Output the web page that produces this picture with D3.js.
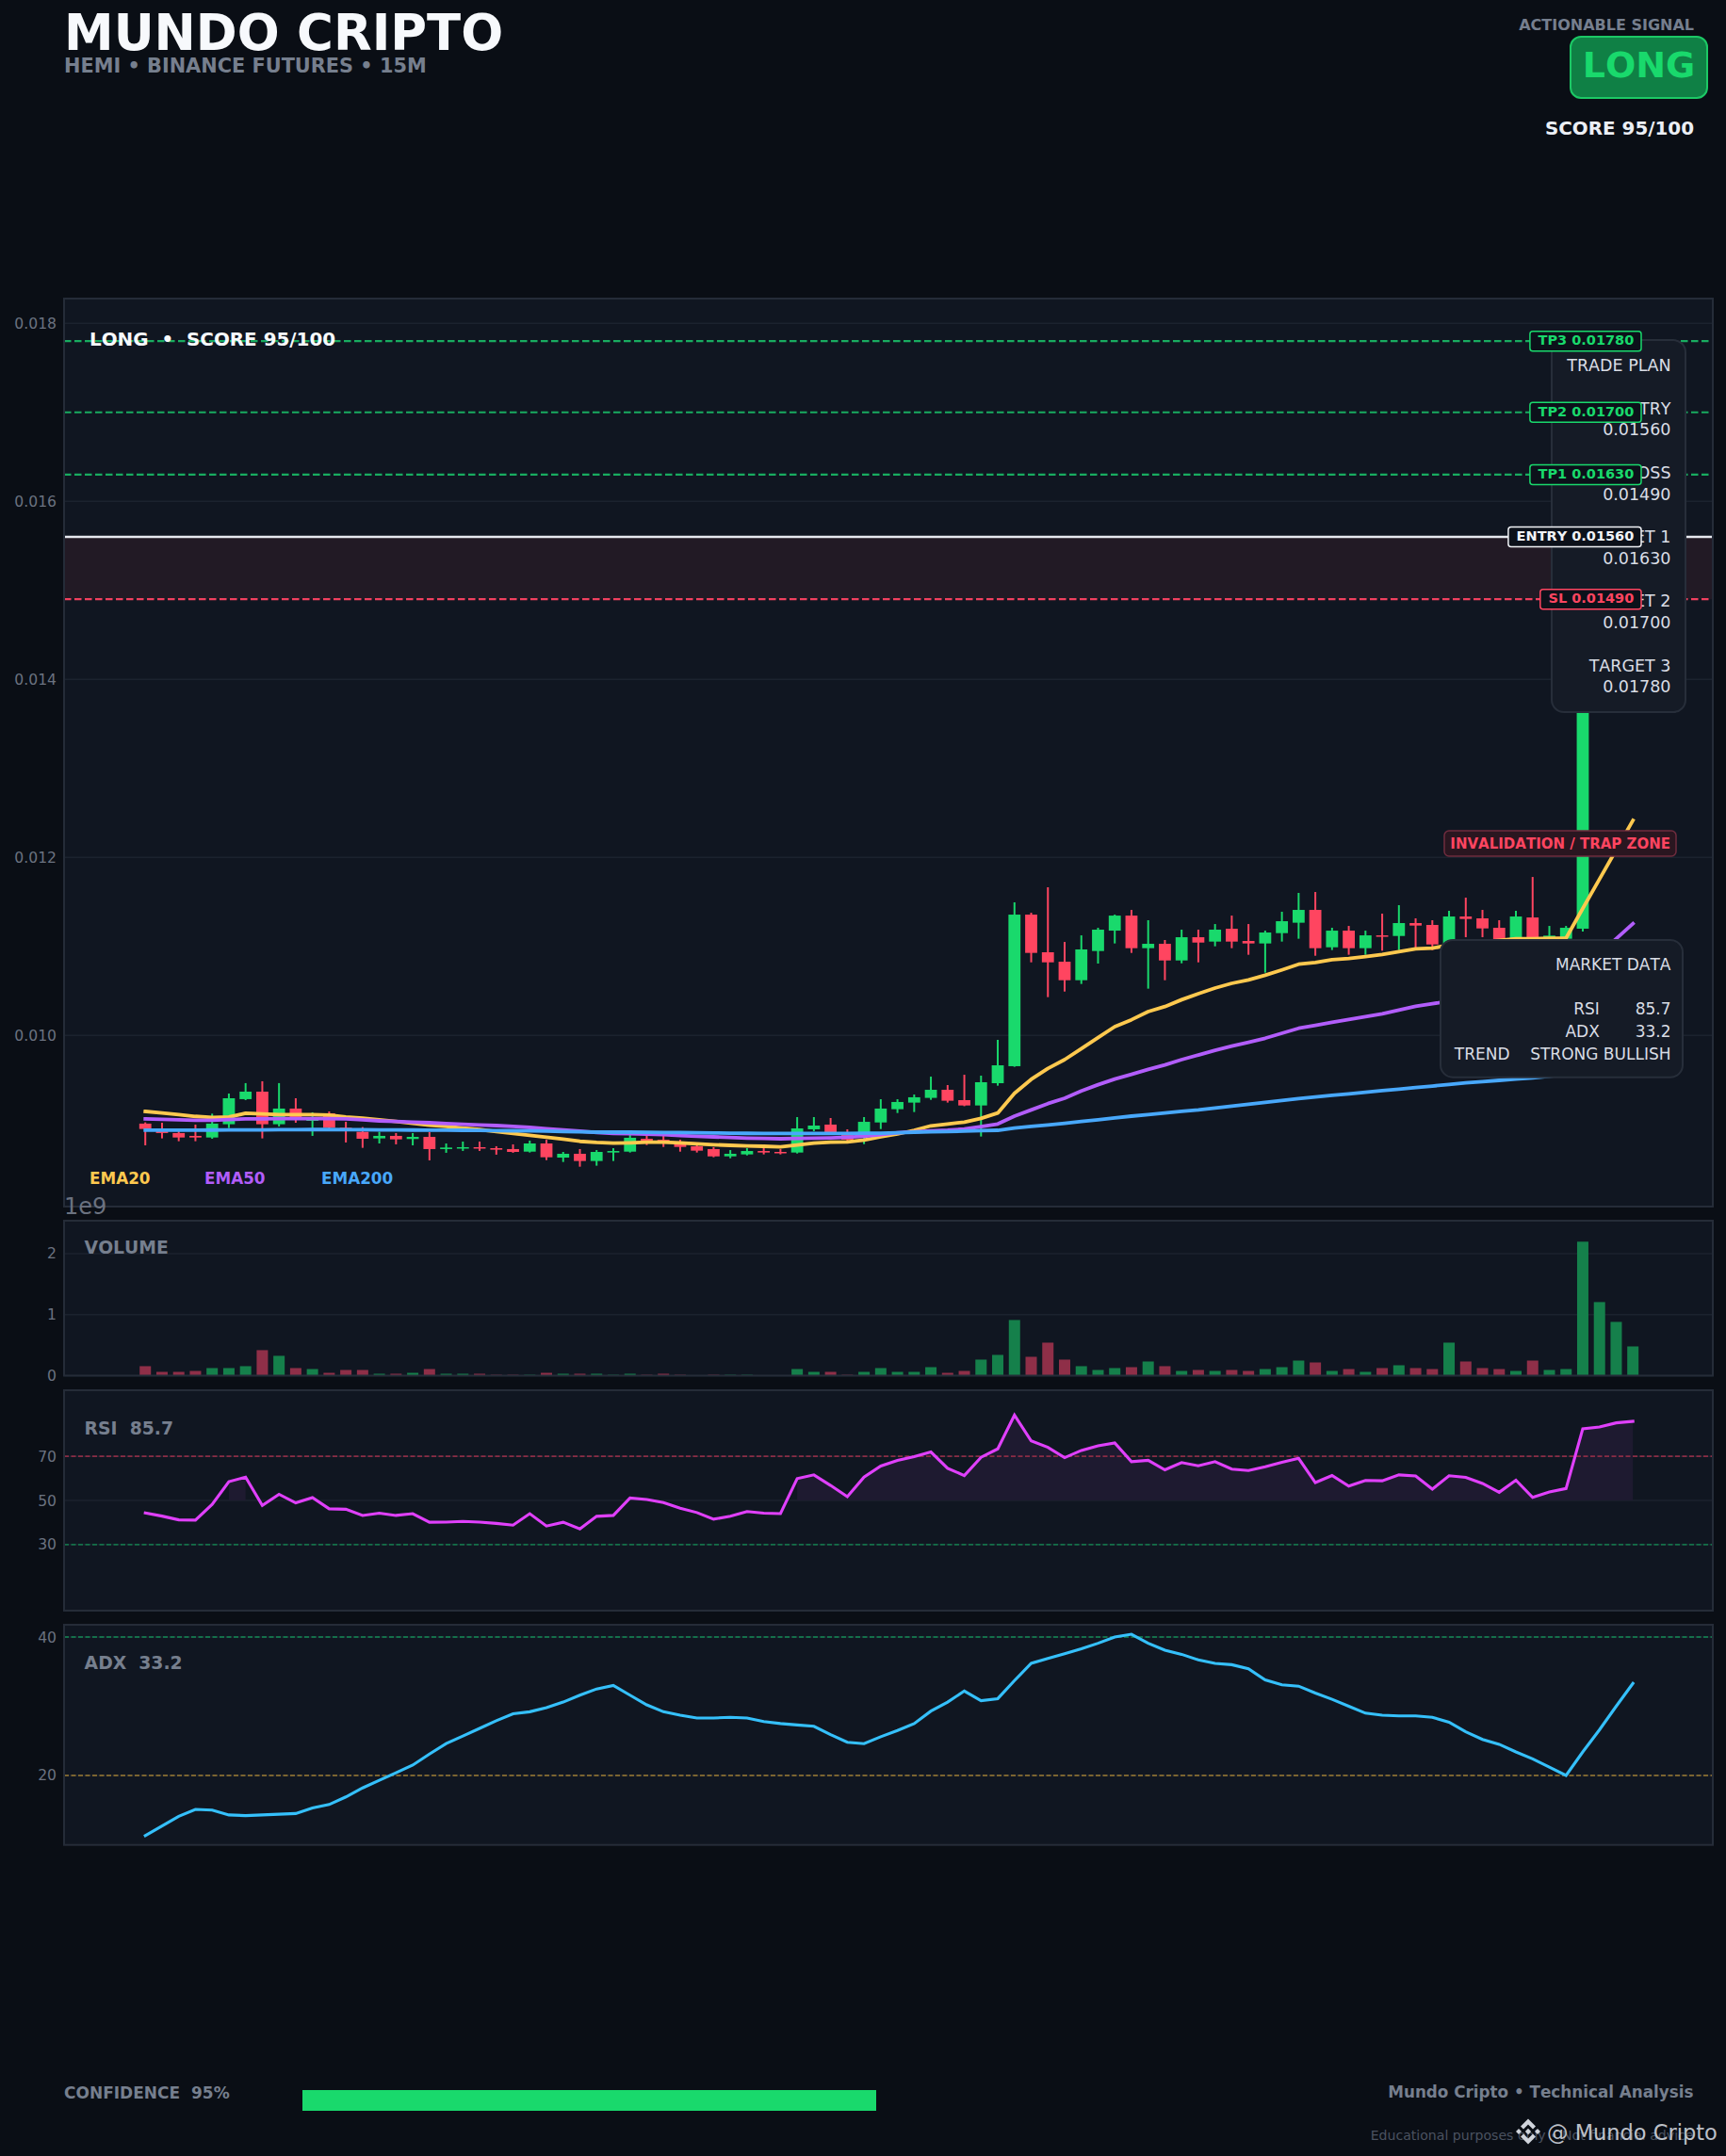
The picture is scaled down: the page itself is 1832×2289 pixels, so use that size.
<!DOCTYPE html>
<html>
<head>
<meta charset="utf-8">
<script src="https://cdn.jsdelivr.net/npm/d3@7"></script>
<style>
  body { margin: 0; background: #0a0e15; }
  text { font-family: "DejaVu Sans", sans-serif; white-space: pre; font-kerning: none; }
</style>
</head>
<body>
<div id="chart"></div>
<script>
// all prices below are in units of 0.00001
const opens = [900.9,892.4,890.3,887.1,885.3,900.2,928.4,936.8,900.2,917.8,904.0,912.5,896.3,891.7,884.3,887.1,883.6,886.0,872.3,873.7,874.4,873.3,872.3,869.4,878.6,862.7,867.0,858.9,868.4,869.4,883.9,882.8,880.7,875.4,872.3,864.1,866.3,870.1,869.1,868.4,894.5,899.8,888.1,888.1,902.2,917.1,924.5,929.8,938.9,927.3,921.3,946.3,965.4,1135.7,1093.4,1082.8,1062,1094.8,1117.7,1134.6,1098,1102.9,1084.2,1110.3,1105.4,1119.8,1106.1,1103.3,1114.9,1126.6,1141,1099,1117.7,1098,1112.4,1111.7,1126.2,1124.1,1100.8,1133.6,1131.5,1120.9,1108.6,1132.5,1108.6,1108.6,1119.9,1520,1555,1580]
const closes = [894.9,890.3,885.3,885.3,900.9,929.4,936.8,900.2,917.8,906.9,906.9,896.3,894.9,883.9,887.1,883.2,886.0,872.3,874.0,874.4,873.0,871.6,869.1,878.6,863.1,867.0,858.9,869.1,870.1,885.0,881.1,880.7,874.7,870.5,864.1,867.0,870.1,868.4,868.4,895.5,898.7,891.3,882.8,902.9,917.8,925.2,930.5,938.9,926.6,921.3,947.4,966.4,1135.7,1092.7,1082.1,1062,1096.6,1118.8,1134.6,1098,1102.9,1084.2,1110.3,1104.3,1118.8,1105.4,1103.3,1115.6,1128.3,1141,1098,1117.7,1098,1112.4,1111.4,1126.2,1123.4,1102.2,1133.6,1130.8,1120.2,1106.8,1133.6,1108.6,1112.1,1120.9,1520,1555,1580,1590]
const highs = [902.3,901.9,893.5,899.8,912.1,934.7,946.4,948.5,946.4,929.4,913.6,914.6,903.0,897,891.7,890.3,890.3,891.3,878.6,880.7,880.7,875.5,877.6,881.8,882.8,869.1,872.3,871.2,873.3,888.1,888.1,888.1,882.8,876.5,874.4,871.2,873.3,873.3,872.3,908.2,908.2,907.2,894.5,908.2,928.3,928.3,933.6,953.7,944.2,955.8,954.8,995,1149.5,1137.8,1166.4,1105,1112.4,1120.9,1135.7,1141,1129.4,1107.2,1118.8,1118.8,1125.1,1134.6,1125.1,1117.7,1138.9,1160.1,1161.1,1120.9,1123,1117.7,1136.8,1146.3,1131.5,1129.4,1140,1154.8,1141,1129.4,1140,1178,1123,1123,1535,1570,1590,1600]
const lows = [876.5,884.3,881.1,881.1,883.9,895.9,927.3,884.3,897.7,901.9,887.1,895.5,879.7,873.7,878.6,877.6,876.5,859.6,868.1,870.2,870.2,866,868.1,868.4,859.9,857.8,852.5,853.6,858.9,868.4,876.8,874.7,869.4,868.4,863.1,862,865.2,866.3,866.3,867.3,892.4,889.9,881.1,877.9,894.8,912.8,913.9,927.6,924.5,920.5,886.4,943.5,964.7,1082.1,1043,1049.3,1057.8,1080.7,1103.3,1092.7,1052.5,1062,1081,1082.1,1100.1,1098,1090.6,1070.5,1105.4,1108.6,1089.5,1095.9,1090.6,1090.6,1095.2,1095.9,1096.9,1095.9,1098.7,1110.3,1110.3,1105,1106.8,1107.5,1107.5,1107.5,1116.7,1505,1540,1570]
const ema20 = [914.6,912.9,911.1,909,907.9,908.3,912.5,911.8,911.1,911.1,911.1,910.4,908.3,906.9,905.1,903.3,901.2,899.1,897.7,895.9,894.2,892,889.9,887.8,885.7,883.5,881,879.7,879,879.3,880,880,879.3,878.3,877.2,876.5,875.8,875.4,874.7,876.8,879,880,880.4,882.5,886,889.2,893.4,898.4,900.5,902.6,906.8,912.8,935,950.6,962.9,972.8,985.1,997.5,1009.8,1017.6,1026.7,1032.4,1040.1,1046.9,1053.2,1058.5,1062.4,1067.6,1073.6,1080,1081.8,1085,1086.3,1088.5,1091,1094.1,1097.3,1098,1101.5,1103.6,1105,1106.8,1108.6,1108.6,1109,1109.3,1142.6,1175.5,1208.5,1241.5]
const ema50 = [906.2,905.8,905.1,904.7,904.7,905.4,906.2,906.2,906.5,906.5,906.5,906.5,906.2,905.1,904,903.3,902.6,901.9,900.9,900.2,899.4,898.7,897.7,896.6,895.2,893.8,892.4,891,889.9,889.6,889.2,888.5,887.4,886.7,886,885.3,884.6,884.2,883.9,884.2,884.6,884.9,885.6,886.7,888.5,890.6,891.7,892.7,893.4,894.8,897.6,900.5,909.3,916.3,923.4,929.4,937.5,944.6,950.9,956.2,961.8,966.8,972.8,978,983.3,987.9,992.2,996.8,1002.4,1008,1011.2,1014.7,1017.9,1021.1,1024.3,1028.5,1032.7,1035.6,1038.5,1041,1044,1047,1050,1054,1058,1063,1076,1092,1108.6,1125.5]
const ema200 = [893.5,893.5,893.6,893.6,893.7,893.8,893.9,893.9,894,894.1,894.2,894.2,894.1,894,893.9,893.8,893.7,893.6,893.5,893.4,893.3,893.1,892.9,892.7,892.4,892,891.7,891.3,891.3,891.3,891.1,890.9,890.8,890.6,890.4,890.2,890,889.9,889.9,889.9,889.9,889.9,889.9,890.1,890.2,890.6,891.3,891.7,892,892.4,893.1,893.4,895.9,897.7,899.4,901.2,903.3,905.1,907.2,909.3,911,912.8,914.6,916.3,918.5,920.6,922.7,924.8,926.9,929,930.8,932.6,934.3,936.1,937.9,939.6,941.4,943.1,944.9,946.7,948.1,949.5,950.9,952.3,954.1,956.2,959,961.8,964.7,967.5]
// volume in units of 1e9
const volumes = [.155,.062,.062,.077,.124,.124,.155,.418,.325,.124,.108,.046,.093,.093,.031,.031,.046,.108,.031,.031,.031,.015,.015,.015,.046,.031,.031,.031,.015,.031,.015,.031,.015,.005,.015,.015,.015,.006,.006,.108,.062,.062,.015,.062,.124,.062,.062,.139,.046,.077,.263,.34,.912,.309,.541,.263,.155,.093,.124,.139,.232,.155,.077,.093,.077,.093,.077,.108,.139,.247,.216,.077,.108,.062,.124,.17,.124,.108,.541,.232,.124,.108,.077,.247,.093,.108,2.196,1.206,.881,.479]
const rsi = [44.3,42.9,41.2,41.1,48.2,58.5,60.6,47.7,52.8,48.9,51.3,46.2,46,43.2,44.2,43.2,44,40.1,40.2,40.5,40.2,39.6,38.8,44,38.4,40.1,37.1,42.8,43.2,51.1,50.4,49,46.5,44.5,41.5,42.8,45,44.2,44,59.9,61.6,56.8,51.7,60.6,65.6,68.2,69.9,72,64.6,61.3,69.6,73.4,88.7,77,74.1,69.4,72.7,74.8,76.1,67.6,68.2,63.9,67.2,65.7,67.6,64.2,63.6,65.3,67.3,69.1,58.1,61.3,56.5,59.1,58.9,61.6,61.1,55.1,61.2,60.5,57.7,53.7,59.2,51.4,53.8,55.4,82.5,83.3,85.2,85.9]
const adx = [11.3,12.7,14.1,15.1,15,14.3,14.2,14.3,14.4,14.5,15.3,15.8,16.9,18.2,19.3,20.4,21.5,23.1,24.6,25.7,26.8,27.9,28.9,29.2,29.8,30.6,31.6,32.5,33,31.6,30.2,29.2,28.7,28.3,28.3,28.4,28.3,27.8,27.5,27.3,27.1,25.9,24.8,24.6,25.6,26.5,27.5,29.3,30.6,32.2,30.8,31.1,33.7,36.2,36.9,37.6,38.3,39.1,40,40.4,39.1,38.1,37.5,36.7,36.2,36,35.4,33.8,33.1,32.9,31.9,31,30,29,28.7,28.6,28.6,28.4,27.7,26.3,25.2,24.5,23.4,22.4,21.2,20,23.4,26.6,30,33.3]

const priceTicks = [0.010, 0.012, 0.014, 0.016, 0.018]
const volumeTicks = [0, 1, 2]
const rsiTicks = [30, 50, 70]
const adxTicks = [20, 40]

const levels = [
  { label: "TP3 0.01780", price: 0.0178, color: "#18ac60", text: "#19d96c" },
  { label: "TP2 0.01700", price: 0.0170, color: "#18ac60", text: "#19d96c" },
  { label: "TP1 0.01630", price: 0.0163, color: "#18ac60", text: "#19d96c" },
  { label: "ENTRY 0.01560", price: 0.0156, color: "#e6e9ef", text: "#f1f3f7" },
  { label: "SL 0.01490", price: 0.0149, color: "#f0405f", text: "#ff4560" }
]
const planLines = ["TRADE PLAN", "", "ENTRY", "0.01560", "", "STOP LOSS", "0.01490", "", "TARGET 1", "0.01630", "", "TARGET 2", "0.01700", "", "TARGET 3", "0.01780"]
const marketLines = ["MARKET DATA", "", "RSI       85.7", "ADX       33.2", "TREND    STRONG BULLISH"]

const bg = "#0a0e15", panelBg = "#101621", border = "#252c38", gridColor = "#1b222e"
const green = "#19d96c", red = "#ff4560", tickColor = "#6b7280", muted = "#767f8e"
const left = 68, right = 1818

const svg = d3.select("#chart").append("svg")
  .attr("width", 1832)
  .attr("height", 2289)
  .style("display", "block")

svg.append("rect").attr("width", 1832).attr("height", 2289).attr("fill", bg)

const indexes = d3.range(opens.length)
const x = d3.scaleLinear().domain([-4.86, 93.78]).range([left, right])

const yPrice = d3.scaleLinear().domain([0.008077, 0.018278]).range([1281, 317])
const yVolume = d3.scaleLinear().domain([0, 2.54]).range([1460.5, 1296])
const yRsi = d3.scaleLinear().domain([0, 100]).range([1710, 1476])
const yAdx = d3.scaleLinear().domain([9.97, 41.77]).range([1958.7, 1725])

const P = 0.00001

// panel frame, grid lines and tick labels
function panel(scale, ticks, format) {
  const [bottom, top] = scale.range()
  const g = svg.append("g")
  g.append("rect")
    .attr("x", left).attr("y", top)
    .attr("width", right - left).attr("height", bottom - top)
    .attr("fill", panelBg)
  g.selectAll("line.grid")
    .data(ticks)
    .join("line")
    .attr("class", "grid")
    .attr("x1", left).attr("x2", right)
    .attr("y1", d => scale(d)).attr("y2", d => scale(d))
    .attr("stroke", gridColor)
    .attr("stroke-width", 1.5)
  const axis = d3.axisLeft(scale).tickValues(ticks).tickFormat(format).tickSize(0).tickPadding(8)
  const ag = g.append("g").attr("transform", "translate(" + left + ",0)").call(axis)
  ag.select(".domain").remove()
  ag.selectAll("text")
    .attr("fill", tickColor)
    .style("font-size", "15.6px")
    .style("font-family", "'DejaVu Sans'")
  return g
}

function frame(scale) {
  const [bottom, top] = scale.range()
  svg.append("rect")
    .attr("x", left).attr("y", top)
    .attr("width", right - left).attr("height", bottom - top)
    .attr("fill", "none")
    .attr("stroke", border)
    .attr("stroke-width", 2)
}

function label(text, px, py, size, color, weight, anchor) {
  return svg.append("text")
    .attr("x", px).attr("y", py)
    .attr("fill", color)
    .attr("text-anchor", anchor || "start")
    .style("font-size", size + "px")
    .style("font-weight", weight || "normal")
    .text(text)
}

// header
label("MUNDO CRIPTO", 68, 53, 52.9, "#f7f9fc", "bold")
label("HEMI • BINANCE FUTURES • 15M", 68, 77, 20.85, muted, "bold")
label("ACTIONABLE SIGNAL", 1798, 31.7, 16, muted, "bold", "end")
svg.append("rect")
  .attr("x", 1667).attr("y", 39).attr("width", 145).attr("height", 65).attr("rx", 11)
  .attr("fill", "#0f8045").attr("stroke", "#1cc865").attr("stroke-width", 2)
label("LONG", 1739.5, 81.5, 38, green, "bold", "middle")
label("SCORE 95/100", 1798, 142.7, 19.9, "#eceff5", "bold", "end")

// main price panel
panel(yPrice, priceTicks, d3.format(".3f"))

svg.append("rect")
  .attr("x", left).attr("width", right - left)
  .attr("y", yPrice(0.0156)).attr("height", yPrice(0.0149) - yPrice(0.0156))
  .attr("fill", "#221a25")

svg.selectAll("line.level")
  .data(levels)
  .join("line")
  .attr("class", "level")
  .attr("x1", left).attr("x2", right)
  .attr("y1", d => yPrice(d.price)).attr("y2", d => yPrice(d.price))
  .attr("stroke", d => d.color)
  .attr("stroke-width", d => d.label.startsWith("ENTRY") ? 2.6 : 2.2)
  .attr("stroke-dasharray", d => d.label.startsWith("ENTRY") ? null : "7.5,3.5")

const candleColor = i => closes[i] >= opens[i] ? green : red

svg.selectAll("line.wick")
  .data(indexes)
  .join("line")
  .attr("class", "wick")
  .attr("x1", i => x(i)).attr("x2", i => x(i))
  .attr("y1", i => yPrice(highs[i] * P)).attr("y2", i => yPrice(lows[i] * P))
  .attr("stroke", candleColor)
  .attr("stroke-width", 2)

svg.selectAll("rect.body")
  .data(indexes)
  .join("rect")
  .attr("class", "body")
  .attr("x", i => x(i) - 6.4)
  .attr("width", 12.8)
  .attr("y", i => yPrice(Math.max(opens[i], closes[i]) * P))
  .attr("height", i => Math.max(1.5, Math.abs(yPrice(opens[i] * P) - yPrice(closes[i] * P))))
  .attr("fill", candleColor)

const priceLine = d3.line().x((d, i) => x(i)).y(d => yPrice(d * P))
const emaSeries = [
  { name: "EMA20", values: ema20, color: "#ffc94f", lx: 95 },
  { name: "EMA50", values: ema50, color: "#b25dfb", lx: 217 },
  { name: "EMA200", values: ema200, color: "#48a8fb", lx: 341 }
]
emaSeries.forEach(s => {
  svg.append("path")
    .attr("d", priceLine(s.values))
    .attr("fill", "none")
    .attr("stroke", s.color)
    .attr("stroke-width", 3.8)
    .attr("stroke-linejoin", "round")
    .attr("stroke-linecap", "square")
})

emaSeries.forEach(s => label(s.name, s.lx, 1257, 16.8, s.color, "bold"))

// info boxes sit on top of the candles, badges on top of the boxes
function infoBox(bx, by, w, h, lines, firstY, step, size) {
  svg.append("rect")
    .attr("x", bx).attr("y", by).attr("width", w).attr("height", h).attr("rx", 13)
    .attr("fill", "#151b26").attr("stroke", "#272e3a").attr("stroke-width", 2)
  lines.forEach((t, i) => label(t, 1773.5, firstY + i * step, size, "#d9dde5", "normal", "end"))
}
infoBox(1647, 361, 142, 395, planLines, 394, 22.75, 17.5)
infoBox(1529, 998, 257, 145.7, marketLines, 1030, 23.7, 17)

levels.forEach(d => {
  const cy = yPrice(d.price)
  const t = label(d.label, 1734.3, cy + 3.8, 14.5, d.text, "bold", "end")
  const w = t.node().getComputedTextLength()
  svg.insert("rect", () => t.node())
    .attr("x", 1734.3 - w - 8.7).attr("y", cy - 10.5)
    .attr("width", w + 16.4).attr("height", 21).attr("rx", 3)
    .attr("fill", "#0c111a").attr("stroke", d.text).attr("stroke-width", 1.5)
})

svg.append("rect")
  .attr("x", 1533).attr("y", 882).attr("width", 246).attr("height", 27).attr("rx", 5)
  .attr("fill", "#2a1620").attr("stroke", "#6f2c3e").attr("stroke-width", 1.5)
label("INVALIDATION / TRAP ZONE", 1773, 901, 15, red, "bold", "end")

label("LONG  •  SCORE 95/100", 95, 367, 19.9, "#f7f9fc", "bold")
frame(yPrice)
label("1e9", 68, 1289, 24, tickColor)

// volume
panel(yVolume, volumeTicks, d3.format("d"))
svg.selectAll("rect.vol")
  .data(volumes)
  .join("rect")
  .attr("class", "vol")
  .attr("x", (d, i) => x(i) - 6)
  .attr("width", 12)
  .attr("y", d => yVolume(d))
  .attr("height", d => yVolume(0) - yVolume(d))
  .attr("fill", (d, i) => closes[i] >= opens[i] ? "#15804b" : "#8f2f48")
frame(yVolume)
label("VOLUME", 89.6, 1331, 18.8, muted, "bold")

// rsi
panel(yRsi, rsiTicks, d3.format("d"))
svg.append("path")
  .attr("d", d3.area().defined(d => d > 50).x((d, i) => x(i)).y0(yRsi(50)).y1(d => yRsi(d))(rsi))
  .attr("fill", "#1e1a30")
function refLine(scale, value, color) {
  svg.append("line")
    .attr("x1", left).attr("x2", right)
    .attr("y1", scale(value)).attr("y2", scale(value))
    .attr("stroke", color)
    .attr("stroke-width", 1.8)
    .attr("stroke-dasharray", "5,2.5")
}
refLine(yRsi, 70, "#8a2c45")
refLine(yRsi, 30, "#14704a")
svg.append("path")
  .attr("d", d3.line().x((d, i) => x(i)).y(d => yRsi(d))(rsi))
  .attr("fill", "none")
  .attr("stroke", "#e040fb")
  .attr("stroke-width", 3.1)
  .attr("stroke-linecap", "square")
frame(yRsi)
label("RSI  85.7", 89.6, 1523, 18.8, muted, "bold")

// adx
panel(yAdx, adxTicks, d3.format("d"))
refLine(yAdx, 40, "#14704a")
refLine(yAdx, 20, "#7b6430")
svg.append("path")
  .attr("d", d3.line().x((d, i) => x(i)).y(d => yAdx(d))(adx))
  .attr("fill", "none")
  .attr("stroke", "#35c0fb")
  .attr("stroke-width", 3.1)
  .attr("stroke-linecap", "square")
frame(yAdx)
label("ADX  33.2", 89.6, 1771.7, 18.8, muted, "bold")

// footer
label("CONFIDENCE  95%", 68, 2228, 17, muted, "bold")
svg.append("rect")
  .attr("x", 321).attr("y", 2219).attr("width", 609).attr("height", 22)
  .attr("fill", green)
label("Mundo Cripto • Technical Analysis", 1797.5, 2226.7, 16.8, muted, "bold", "end")
label("Educational purposes only • Not financial advice", 1797.5, 2271.7, 14.1, "#4a5260", "normal", "end")

// binance mark and watermark
const mark = svg.append("g").attr("transform", "translate(1622,2263)").attr("fill", "#d0d4dc")
mark.append("path").attr("d", "M0,-13.5 L8,-5.5 L5,-2.5 L0,-7.5 L-5,-2.5 L-8,-5.5 Z")
mark.append("path").attr("d", "M0,13.5 L8,5.5 L5,2.5 L0,7.5 L-5,2.5 L-8,5.5 Z")
mark.append("path").attr("d", "M0,-3.2 L3.2,0 L0,3.2 L-3.2,0 Z")
mark.append("path").attr("d", "M-10,-3 L-7,0 L-10,3 L-13,0 Z")
mark.append("path").attr("d", "M10,-3 L13,0 L10,3 L7,0 Z")
label("@ Mundo Cripto", 1642, 2272, 22.5, "#d0d4dc").attr("opacity", 0.9)
</script>
</body>
</html>
